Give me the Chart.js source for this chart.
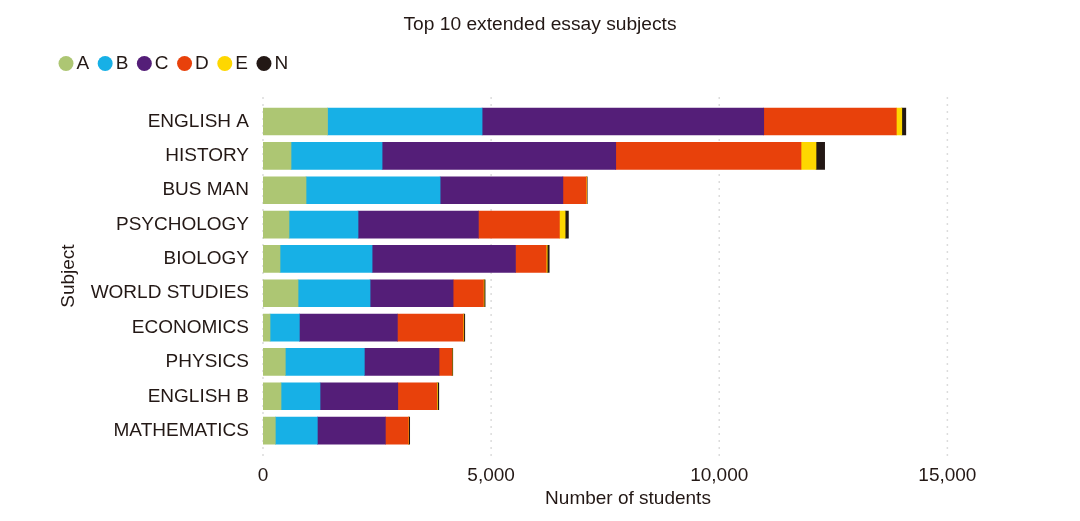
<!DOCTYPE html>
<html>
<head>
<meta charset="utf-8">
<style>
    html, body { margin: 0; padding: 0; background: #fff; }
    #wrap { width: 1080px; height: 521px; }
</style>
<script src="https://cdn.jsdelivr.net/npm/chart.js@4/dist/chart.umd.min.js"></script>
</head>
<body>
<div id="wrap"><canvas id="essayChart" width="1080" height="521"></canvas></div>
<script>
// Values
var subjects = ['ENGLISH A', 'HISTORY', 'BUS MAN', 'PSYCHOLOGY', 'BIOLOGY', 'WORLD STUDIES', 'ECONOMICS', 'PHYSICS', 'ENGLISH B', 'MATHEMATICS'];
var gradeA = [1414, 614, 943, 570, 373, 768, 154, 489, 395, 270];
var gradeB = [3388, 1996, 2939, 1513, 2018, 1579, 643, 1732, 855, 921];
var gradeC = [6173, 5121, 2691, 2638, 3143, 1820, 2149, 1638, 1704, 1491];
var gradeD = [2906, 4061, 511, 1776, 673, 664, 1441, 278, 855, 504];
var gradeE = [120, 329, 11, 125, 22, 15, 13, 7, 15, 7];
var gradeN = [88, 189, 11, 72, 44, 22, 22, 15, 29, 22];
var xTicks = [0, 5000, 10000, 15000];

var colorA = '#adc673';
var colorB = '#17b0e6';
var colorC = '#541e78';
var colorD = '#e8410b';
var colorE = '#fed700';
var colorN = '#231815';
var textColor = '#231815';
var fontName = '"Liberation Sans", Arial, sans-serif';

function makeSeries(name, values, color) {
    return { label: name, data: values, backgroundColor: color, borderWidth: 0, barThickness: 27 };
}

// Dotted grid lines run a little past the bars, so draw them from the x scale
var dottedGrid = {
    id: 'dottedGrid',
    beforeDatasetsDraw: function(chart) {
        var ctx = chart.ctx;
        var x = chart.scales.x;
        ctx.save();
        ctx.strokeStyle = '#dcdcdc';
        ctx.lineWidth = 1.5;
        ctx.setLineDash([2, 5]);
        x.ticks.forEach(function(t) {
            var px = x.getPixelForValue(t.value);
            ctx.beginPath();
            ctx.moveTo(px, 97);
            ctx.lineTo(px, 459);
            ctx.stroke();
        });
        ctx.restore();
    }
};

// Leave the gap under the legend and centre the title on the whole page
var headerLayout = {
    id: 'headerLayout',
    beforeInit: function(chart) {
        var fit = chart.legend.fit;
        chart.legend.fit = function() {
            fit.call(this);
            this.height = 65.3;
        };
    },
    afterLayout: function(chart) {
        chart.titleBlock.left = 0;
        chart.titleBlock.right = chart.width;
    }
};

window.onload = function() {
    var ctx = document.getElementById('essayChart').getContext('2d');
    new Chart(ctx, {
        type: 'bar',
        data: {
            labels: subjects,
            datasets: [
                makeSeries('A', gradeA, colorA),
                makeSeries('B', gradeB, colorB),
                makeSeries('C', gradeC, colorC),
                makeSeries('D', gradeD, colorD),
                makeSeries('E', gradeE, colorE),
                makeSeries('N', gradeN, colorN)
            ]
        },
        plugins: [dottedGrid, headerLayout],
        options: {
            indexAxis: 'y',
            responsive: false,
            animation: false,
            layout: { padding: { left: 50, right: 87, top: 0, bottom: 11 } },
            plugins: {
                tooltip: { enabled: false },
                title: {
                    display: true,
                    text: 'Top 10 extended essay subjects',
                    color: textColor,
                    font: { family: fontName, size: 19.2, weight: 'normal' },
                    padding: { top: 13.5, bottom: 2.5 }
                },
                legend: {
                    position: 'top',
                    align: 'start',
                    labels: {
                        usePointStyle: true,
                        pointStyle: 'circle',
                        boxWidth: 2,
                        boxHeight: 10.6,
                        padding: 15,
                        color: textColor,
                        font: { family: fontName, size: 19 }
                    }
                }
            },
            scales: {
                x: {
                    stacked: true,
                    min: 0,
                    max: 16000,
                    grid: { display: false },
                    border: { display: false },
                    afterBuildTicks: function(scale) {
                        scale.ticks = xTicks.map(function(v) { return { value: v }; });
                    },
                    ticks: {
                        autoSkip: false,
                        maxRotation: 0,
                        padding: 9,
                        color: textColor,
                        font: { family: fontName, size: 19 },
                        callback: function(v) { return v.toLocaleString('en-US'); }
                    },
                    title: {
                        display: true,
                        text: 'Number of students',
                        color: textColor,
                        font: { family: fontName, size: 19 },
                        padding: { top: 0, bottom: 0 }
                    },
                    afterFit: function(scale) { scale.height = 62.2; }
                },
                y: {
                    stacked: true,
                    grid: { display: false },
                    border: { display: false },
                    ticks: {
                        padding: 6,
                        color: textColor,
                        autoSkip: false,
                        font: { family: fontName, size: 19 }
                    },
                    title: {
                        display: true,
                        text: 'Subject',
                        color: textColor,
                        font: { family: fontName, size: 19 },
                        padding: { top: 7, bottom: 0 }
                    },
                    afterFit: function(scale) { scale.width = 213; }
                }
            }
        }
    });
};
</script>
</body>
</html>
